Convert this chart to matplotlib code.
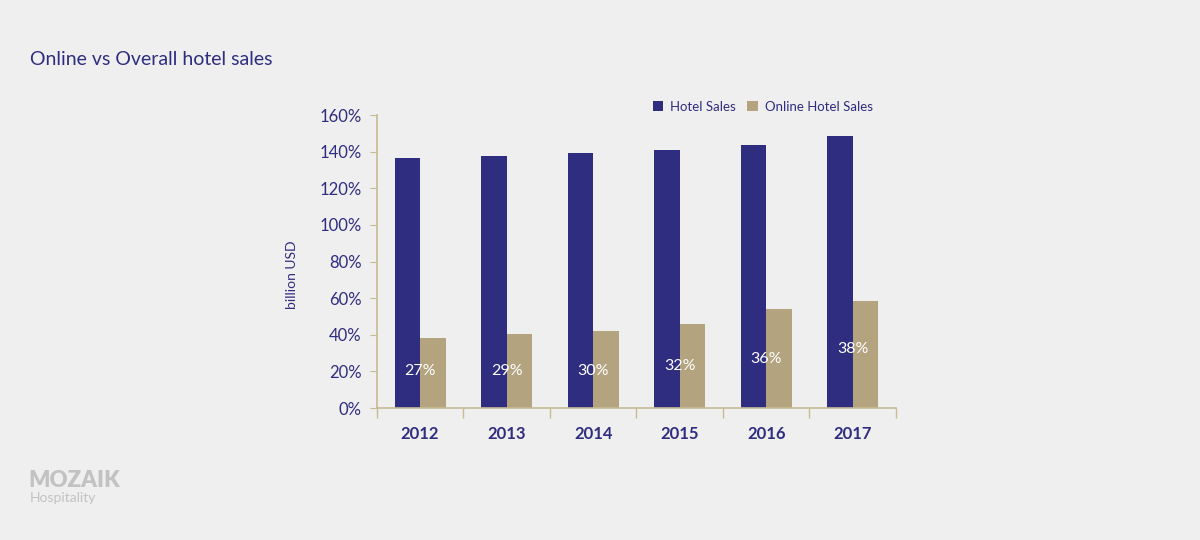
import numpy as np
import matplotlib.pyplot as plt

years = ['2012', '2013', '2014', '2015', '2016', '2017']
hotel_sales = [136.7, 137.8, 139.1, 140.7, 143.5, 148.7]
online_sales = [38.2, 40.5, 41.8, 46.0, 54.0, 58.2]
share_labels = ['27%', '29%', '30%', '32%', '36%', '38%']
share_label_y = [20, 20, 20, 23, 26.5, 32]
y_ticks = [0, 20, 40, 60, 80, 100, 120, 140, 160]

navy = '#2e2d7f'
tan = '#b3a47f'
axis_col = '#c8bb92'
bg = '#efefef'

plt.rcParams['font.family'] = ['Lato', 'DejaVu Sans']

fig = plt.figure(figsize=(12, 5.4), dpi=100, facecolor=bg)
ax = fig.add_axes([0.314, 0.2444, 0.4327, 0.5426], facecolor=bg)

x = np.arange(len(years))
w = 0.295
ax.bar(x - w / 2, hotel_sales, w, color=navy, label='Hotel Sales')
ax.bar(x + w / 2, online_sales, w, color=tan, label='Online Hotel Sales')

for xi, lab, ly in zip(x, share_labels, share_label_y):
    ax.text(xi, ly, lab, color='white', ha='center', va='center', fontsize=11.5)

ax.set_xlim(-0.5, len(years) - 0.5)
ax.set_ylim(0, 160)
ax.set_yticks(y_ticks)
ax.set_yticklabels([f'{t}%' for t in y_ticks])
ax.set_xticks(x)
ax.set_xticklabels(years, fontweight='bold')
ax.set_xticks(np.arange(len(years) + 1) - 0.5, minor=True)
ax.tick_params(axis='x', which='major', length=0, pad=13, labelsize=12, labelcolor=navy)
ax.tick_params(axis='x', which='minor', length=7, direction='out', color=axis_col, width=1)
ax.tick_params(axis='y', length=5, color=axis_col, labelsize=12, labelcolor=navy, pad=6)

for s in ['top', 'right']:
    ax.spines[s].set_visible(False)
for s in ['left', 'bottom']:
    ax.spines[s].set_color(axis_col)
    ax.spines[s].set_linewidth(1.2)

ax.set_ylabel('billion USD', color=navy, fontsize=10)
ax.yaxis.set_label_coords(-0.152, 0.454)

ax.legend(loc='lower right', bbox_to_anchor=(0.965, 0.99), ncol=2, frameon=False,
          fontsize=9.5, labelcolor=navy, handlelength=0.8, handleheight=0.8,
          handletextpad=0.5, columnspacing=0.9, borderaxespad=0)

fig.text(0.025, 0.89, 'Online vs Overall hotel sales', color=navy, fontsize=14,
         ha='left', va='center')
fig.text(0.024, 0.11, 'MOZAIK', color='#c2c2c2', fontsize=16, fontweight='heavy',
         ha='left', va='center')
fig.text(0.025, 0.078, 'Hospitality', color='#c2c2c2', fontsize=10,
         ha='left', va='center')

fig.savefig('out.png', dpi=100, facecolor=bg)
plt.close(fig)
